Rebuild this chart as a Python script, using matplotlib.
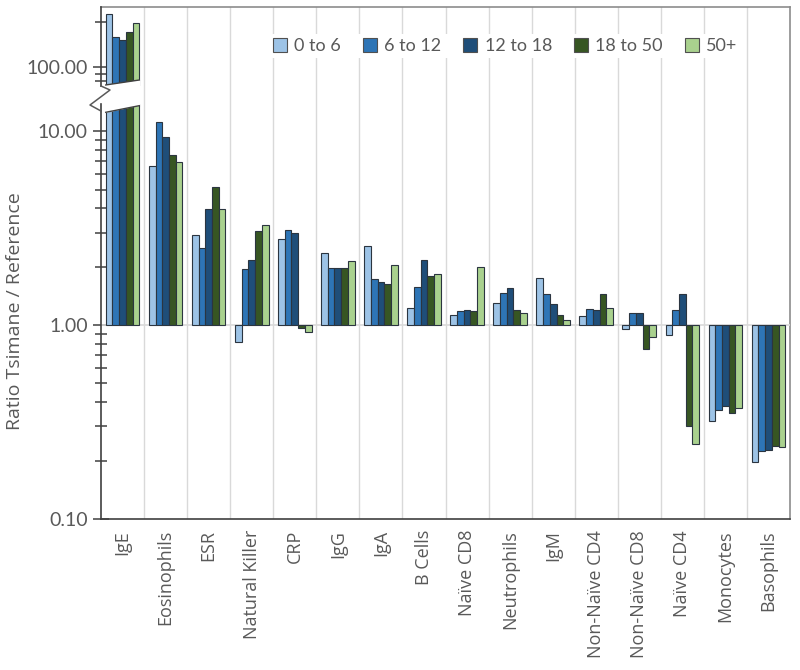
import numpy as np
import matplotlib.pyplot as plt
from matplotlib.patches import Patch, Polygon
from matplotlib.ticker import FixedLocator, NullFormatter
from matplotlib.lines import Line2D

# categorias y series (ratio Tsimane / referencia)
categorias = ['IgE', 'Eosinophils', 'ESR', 'Natural Killer', 'CRP', 'IgG', 'IgA',
              'B Cells', 'Naïve CD8', 'Neutrophils', 'IgM', 'Non-Naïve CD4',
              'Non-Naïve CD8', 'Naïve CD4', 'Monocytes', 'Basophils']
series = ['0 to 6', '6 to 12', '12 to 18', '18 to 50', '50+']

edad_0_6 = [227, 6.6, 2.90, 0.82, 2.77, 2.35, 2.56, 1.22, 1.13, 1.30, 1.75, 1.11, 0.95, 0.89, 0.32, 0.196]
edad_6_12 = [159, 11.1, 2.49, 1.94, 3.09, 1.97, 1.72, 1.58, 1.18, 1.47, 1.44, 1.21, 1.16, 1.20, 0.363, 0.224]
edad_12_18 = [152, 9.3, 3.96, 2.16, 2.99, 1.97, 1.67, 2.16, 1.20, 1.55, 1.28, 1.20, 1.15, 1.45, 0.382, 0.226]
edad_18_50 = [172, 7.5, 5.13, 3.05, 0.97, 1.97, 1.63, 1.80, 1.18, 1.20, 1.13, 1.44, 0.75, 0.30, 0.353, 0.239]
edad_50 = [199, 6.9, 3.96, 3.29, 0.92, 2.15, 2.05, 1.84, 2.00, 1.15, 1.06, 1.22, 0.87, 0.243, 0.372, 0.234]
valores = [edad_0_6, edad_6_12, edad_12_18, edad_18_50, edad_50]

colores = ['#9DC3E6', '#2E75B6', '#1F4E79', '#375623', '#A9D18E']
bordes = '#2b3540'
gris = '#595959'

W, H = 800, 670
fig = plt.figure(figsize=(8, 6.7), dpi=100)

def caja(x0, y0, x1, y1):
    # convierte pixeles (origen arriba-izquierda) a coordenadas de figura
    return [x0 / W, 1 - y1 / H, (x1 - x0) / W, (y1 - y0) / H]

x_izq, x_der = 101, 790
ax_bg = fig.add_axes(caja(x_izq, 7, x_der, 519))
ax_up = fig.add_axes(caja(x_izq, 7, x_der, 86))
ax_lo = fig.add_axes(caja(x_izq, 104, x_der, 519))

n = len(categorias)
x = np.arange(n)
w = 0.156

# fondo: lineas verticales entre categorias y marco
ax_bg.set_xlim(-0.5, n - 0.5)
ax_bg.set_ylim(0, 1)
for b in np.arange(0.5, n - 0.5, 1):
    ax_bg.axvline(b, color='#d9d9d9', lw=1, zorder=0)
ax_bg.set_xticks([])
ax_bg.set_yticks([])
for s in ['left', 'bottom']:
    ax_bg.spines[s].set_visible(False)
for s in ['top', 'right']:
    ax_bg.spines[s].set_color('#8c8c8c')
    ax_bg.spines[s].set_linewidth(1.2)

for ax in (ax_up, ax_lo):
    ax.set_facecolor('none')
    ax.set_yscale('log')
    ax.set_xlim(-0.5, n - 0.5)
    for s in ['top', 'right', 'bottom']:
        ax.spines[s].set_visible(False)
    ax.spines['left'].set_color('#404040')
    ax.spines['left'].set_linewidth(1.2)
    for j in range(len(series)):
        alto = [v - 1 for v in valores[j]]
        ax.bar(x + (j - 2) * w, alto, w, bottom=1, color=colores[j],
               edgecolor=bordes, linewidth=0.8, zorder=3)
    ax.tick_params(axis='y', which='both', direction='inout', color='#404040',
                   labelcolor=gris, labelsize=14)
    ax.tick_params(axis='y', which='major', length=12, width=1.1)
    ax.tick_params(axis='y', which='minor', length=9, width=1.1)
    ax.yaxis.set_minor_formatter(NullFormatter())

ax_up.set_ylim(74.4, 254)
ax_up.yaxis.set_major_locator(FixedLocator([100]))
ax_up.yaxis.set_minor_locator(FixedLocator([80, 90, 200]))
ax_up.set_yticklabels(['100.00'], family='Lato')
ax_up.set_xticks([])

ax_lo.set_ylim(0.1, 13.8)
ax_lo.yaxis.set_major_locator(FixedLocator([0.1, 1, 10]))
ax_lo.yaxis.set_minor_locator(FixedLocator([k * d for d in (0.1, 1) for k in range(2, 10)]))
ax_lo.set_yticklabels(['0.10', '1.00', '10.00'], family='Lato')
ax_lo.axhline(1, color='#d9d9d9', lw=1.2, zorder=2)
ax_lo.spines['bottom'].set_visible(True)
ax_lo.spines['bottom'].set_color('#404040')
ax_lo.spines['bottom'].set_linewidth(1.2)
ax_lo.set_xticks(x)
ax_lo.set_xticklabels(categorias, rotation=90, family='Open Sans', fontsize=13, color=gris)
ax_lo.tick_params(axis='x', length=0, pad=8)
ax_lo.set_ylabel('Ratio Tsimane / Reference', family='Open Sans', fontsize=14, color=gris, labelpad=10)

# corte inclinado de las barras de IgE
x0, x1 = -2.5 * w, 2.5 * w
tr_lo = ax_lo.get_xaxis_transform()
ax_lo.add_patch(Polygon([[x0 - 0.02, 0.978], [x1 + 0.02, 0.996], [x1 + 0.02, 1.02], [x0 - 0.02, 1.02]],
                        closed=True, transform=tr_lo, facecolor='white', edgecolor='none',
                        zorder=4, clip_on=False))
ax_lo.plot([x0, x1], [0.980, 0.996], transform=tr_lo, color='#404040', lw=1, zorder=5, clip_on=False)
tr_up = ax_up.get_xaxis_transform()
ax_up.add_patch(Polygon([[x0 - 0.02, 0.013], [x1 + 0.02, 0.076], [x1 + 0.02, -0.05], [x0 - 0.02, -0.05]],
                        closed=True, transform=tr_up, facecolor='white', edgecolor='none',
                        zorder=4, clip_on=False))
ax_up.plot([x0, x1], [0.013, 0.076], transform=tr_up, color='#404040', lw=1, zorder=5, clip_on=False)

# zigzag del eje cortado
zx = np.array([101, 110, 90, 101]) / W
zy = 1 - np.array([86, 90, 105, 111]) / H
fig.add_artist(Line2D(zx, zy, color='#595959', lw=1.1))

manijas = [Patch(facecolor=colores[j], edgecolor='#505050', linewidth=0.8) for j in range(len(series))]
leg = fig.legend(manijas, series, loc='center', bbox_to_anchor=(505 / W, 1 - 46 / H), ncol=5,
                 frameon=True, facecolor='white', edgecolor='none', framealpha=1,
                 handlelength=0.8, handleheight=0.8, handletextpad=0.4, columnspacing=1.2,
                 prop={'family': 'Lato', 'size': 13}, borderpad=0.2)
for t in leg.get_texts():
    t.set_color(gris)

fig.savefig('out.png', dpi=100)
